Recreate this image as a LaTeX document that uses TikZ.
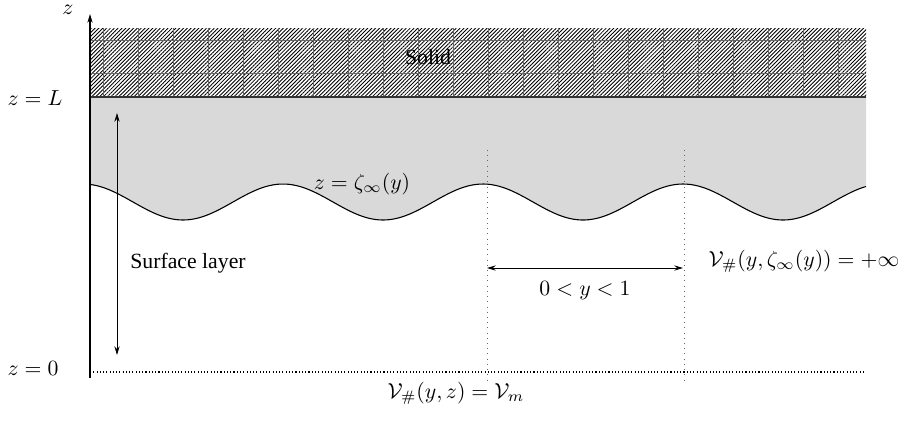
\documentclass[tikz,border=0pt]{standalone}
\usepackage[no-math]{fontspec}
\setmainfont{Liberation Serif}
\usetikzlibrary{patterns.meta,arrows.meta}
\begin{document}
\begin{tikzpicture}[x=0.46pt,y=-0.46pt,
  lbl/.style={inner sep=1pt,font=\fontsize{10}{12}\selectfont},
  dimarrow/.style={{Stealth[length=4pt,width=2.4pt]}-{Stealth[length=4pt,width=2.4pt]},line width=0.4pt},
  guide/.style={dotted,line width=0.4pt,black!60},
  wave/.style={line width=0.5pt}]
\useasboundingbox (0,0) rectangle (912,423);
% solid block
\fill[pattern={Lines[angle=45,distance=1.25pt,line width=0.4pt]}] (90,28) rectangle (866,97);
\begin{scope}
\clip (90,28) rectangle (866,97);
\foreach \gx in {103,138,173,208,243,278,313,348,383,418,453,488,523,558,593,628,663,698,733,768,803,838} {
  \draw[line width=0.3pt,black!60] (\gx,28) -- (\gx,97);
}
\foreach \gy in {40,73} {
  \draw[line width=0.3pt,black!60] (90,\gy) -- (866,\gy);
}
\end{scope}
% gray layer
\fill[black!15] (90,97) -- (866,97) -- plot[domain=866:90,samples=200] (\x,{202-18*cos(1.8*(\x-483))}) -- cycle;
\draw[line width=0.6pt,black!80] (90,97) -- (866,97);
\draw[wave] plot[domain=90:866,samples=200] (\x,{202-18*cos(1.8*(\x-483))});
% coordinates
\coordinate (axb) at (90,378);
\coordinate (axt) at (90,14);
\coordinate (g1t) at (487,150);
\coordinate (g1b) at (487,380);
\coordinate (g2t) at (684,150);
\coordinate (g2b) at (684,380);
\coordinate (z0l) at (90,372);
\coordinate (z0r) at (866,372);
\coordinate (sl1) at (117,113);
\coordinate (sl2) at (117,355);
\coordinate (pr1) at (487,268);
\coordinate (pr2) at (683,268);
% guides
\draw[guide] (g1t) -- (g1b);
\draw[guide] (g2t) -- (g2b);
\draw[densely dotted,line width=0.5pt] (z0l) -- (z0r);
% axis
\draw[-{Stealth[length=4pt,width=2.4pt]},line width=0.5pt] (axb) -- (axt);
% arrows
\draw[dimarrow] (sl1) -- (sl2);
\draw[dimarrow] (pr1) -- (pr2);
% labels
\node[lbl,inner sep=0pt] (zlab) at (68,10) {$z$};
\node[lbl] (zL) at (35,98) {$z=L$};
\node[lbl] (z0) at (33,368) {$z=0$};
\node[lbl] (solid) at (428,57) {Solid};
\node[lbl] (zeta) at (362,184) {$z=\zeta_\infty(y)$};
\node[lbl] (surf) at (188,263) {Surface layer};
\node[lbl] (per) at (585,291) {$0<y<1$};
\node[lbl] (vinf) at (804,261) {$\mathcal{V}_\#(y,\zeta_\infty(y))=+\infty$};
\node[lbl] (vm) at (456,393) {$\mathcal{V}_\#(y,z)=\mathcal{V}_m$};
\end{tikzpicture}
\end{document}
